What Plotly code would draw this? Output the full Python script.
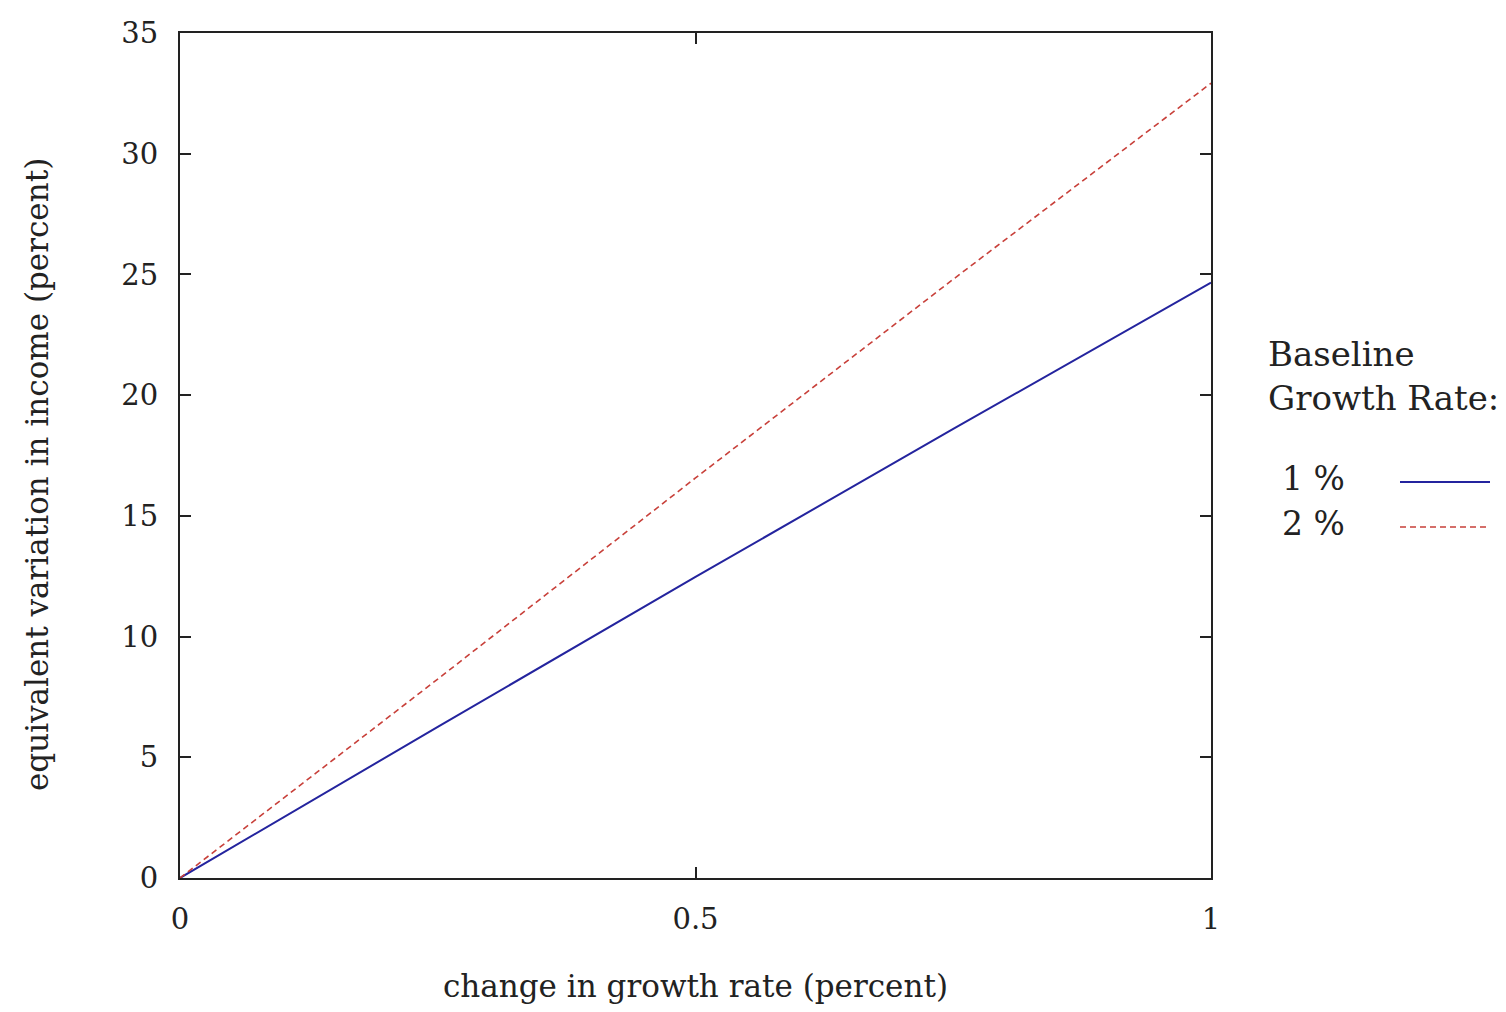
import plotly.graph_objects as go

# Data
x_change = [0, 0.25, 0.5, 0.75, 1.0]
ev_base1 = [0, 6.26, 12.47, 18.6, 24.66]
ev_base2 = [0, 8.24, 16.57, 24.8, 32.92]
series_names = ["1 %", "2 %"]
x_ticks = [0, 0.5, 1]
x_ticklabels = ["0", "0.5", "1"]
y_ticks = [0, 5, 10, 15, 20, 25, 30, 35]

FONT = "DejaVu Serif"
BLUE = "#24249e"
RED = "#c8403a"

fig = go.Figure()
fig.add_trace(go.Scatter(x=x_change, y=ev_base1, mode="lines", name=series_names[0],
                         line=dict(color=BLUE, width=2), showlegend=False))
fig.add_trace(go.Scatter(x=x_change, y=ev_base2, mode="lines", name=series_names[1],
                         line=dict(color=RED, width=1.6, dash="6px,4px"), showlegend=False))

# page has an 8px body margin; figure sized to fit the window
W, H = 1490, 996
L, T = 172, 25
PW, PH = 1031, 845
R = W - L - PW
B = H - T - PH

# screen-pixel -> paper helpers (screen = 8 + figure px)
def px(sx):
    return (sx - 8 - L) / PW

def py(sy):
    return (T + PH + 8 - sy) / PH

fig.update_layout(
    width=W, height=H,
    margin=dict(l=L, r=R, t=T, b=B, autoexpand=False),
    paper_bgcolor="white", plot_bgcolor="white",
    font=dict(family=FONT, size=29, color="#222"),
    xaxis=dict(range=[0, 1], tickvals=x_ticks, ticktext=x_ticklabels,
               ticks="inside", ticklen=11, tickwidth=1.5, tickcolor="#222",
               showline=True, linecolor="#222", linewidth=2, mirror="ticks",
               showgrid=False, zeroline=False, ticklabelstandoff=14,
               automargin=False,
               tickfont=dict(family=FONT, size=29),
               title=dict(text="change in growth rate (percent)", standoff=44,
                          font=dict(family=FONT, size=31))),
    yaxis=dict(range=[0, 35], tickvals=y_ticks,
               ticks="inside", ticklen=11, tickwidth=1.5, tickcolor="#222",
               showline=True, linecolor="#222", linewidth=2, mirror="ticks",
               showgrid=False, zeroline=False, ticklabelstandoff=14,
               automargin=False,
               tickfont=dict(family=FONT, size=29)),
)

# y-axis title (placed as in the reference, slightly below the plot centre)
fig.add_annotation(x=px(37), y=py(475), xref="paper", yref="paper",
                   text="equivalent variation in income (percent)", showarrow=False,
                   textangle=-90, xanchor="center", yanchor="middle",
                   font=dict(family=FONT, size=31, color="#222"))

# Manual legend (gnuplot style: text left, line sample right)
fig.add_annotation(x=px(1266), y=py(376), xref="paper", yref="paper",
                   text="Baseline<br>Growth Rate:", showarrow=False,
                   xanchor="left", yanchor="middle", align="left",
                   font=dict(family=FONT, size=34, color="#222"))
legend_rows = [(series_names[0], 478, BLUE, "solid", 2),
               (series_names[1], 523, RED, "6px,4px", 1.6)]
for label, sy, col, dash, wd in legend_rows:
    fig.add_annotation(x=px(1280), y=py(sy), xref="paper", yref="paper",
                       text=label, showarrow=False, xanchor="left", yanchor="middle",
                       font=dict(family=FONT, size=33, color="#222"))
    fig.add_shape(type="line", xref="paper", yref="paper",
                  x0=px(1400), x1=px(1490), y0=py(sy + 4), y1=py(sy + 4),
                  line=dict(color=col, width=wd, dash=dash))

fig.write_html("out.html")
